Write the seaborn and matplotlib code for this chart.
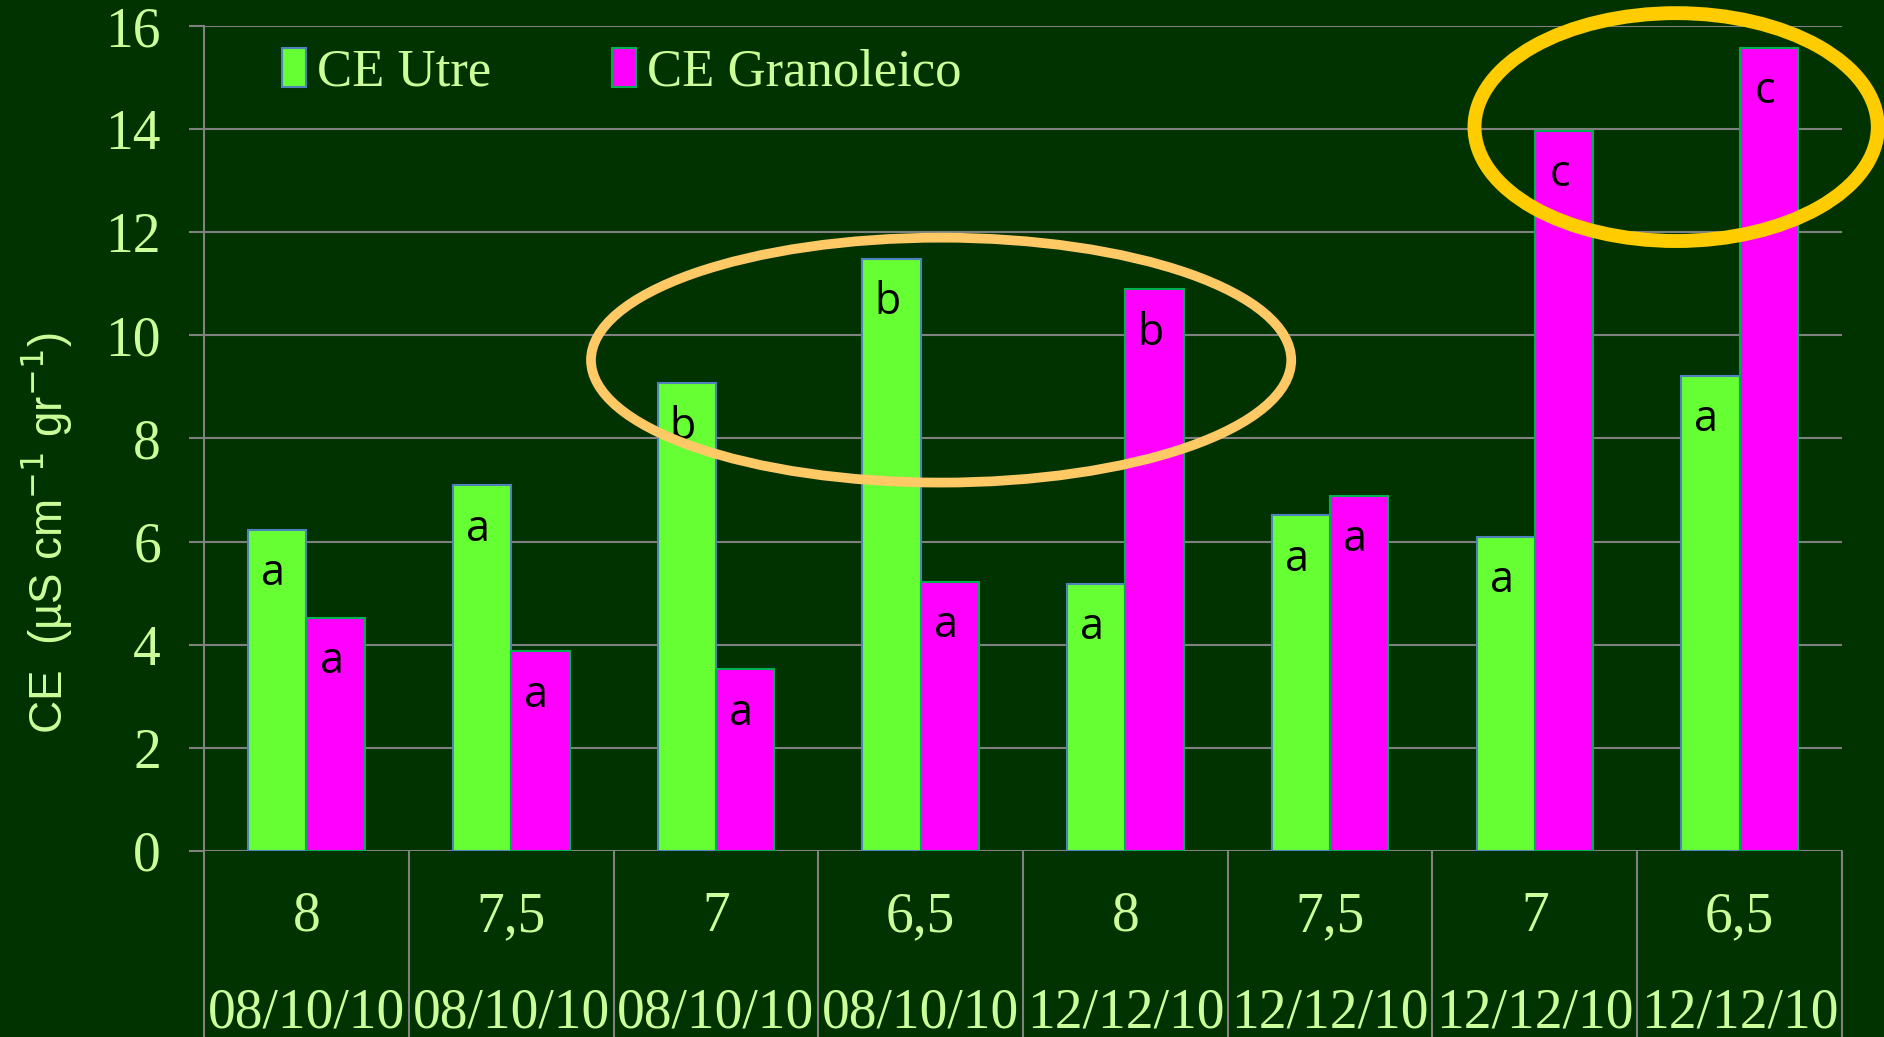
import matplotlib
matplotlib.use('Agg')
import matplotlib.pyplot as plt
import matplotlib.transforms as mtransforms
from matplotlib.patches import Ellipse, Patch
import pandas as pd
import seaborn as sns

# datos
ph = ['8', '7,5', '7', '6,5', '8', '7,5', '7', '6,5']
fechas = ['08/10/10'] * 4 + ['12/12/10'] * 4
ce_utre = [6.23, 7.09, 9.07, 11.48, 5.18, 6.51, 6.09, 9.21]
ce_grano = [4.52, 3.87, 3.52, 5.22, 10.89, 6.88, 13.97, 15.58]
letras_utre = ['a', 'a', 'b', 'b', 'a', 'a', 'a', 'a']
letras_grano = ['a', 'a', 'a', 'a', 'b', 'a', 'c', 'c']
series = ['CE Utre', 'CE Granoleico']
yticks = [0, 2, 4, 6, 8, 10, 12, 14, 16]

fondo = '#003300'
texto = '#CCFF99'
colores = ['#66FF33', '#FF00FF']
bordes = ['#4F81BD', '#00B050']

n = len(ph)
df = pd.DataFrame({
    'cat': list(range(n)) * 2,
    'ce': ce_utre + ce_grano,
    'serie': [series[0]] * n + [series[1]] * n,
})

sns.set_style('dark')
plt.rcParams['font.family'] = ['Liberation Serif', 'DejaVu Serif']

fig = plt.figure(figsize=(18.84, 10.37), dpi=100, facecolor=fondo)
ax = fig.add_axes([0.1083, 0.1794, 0.8694, 0.7955])
ax.set_facecolor(fondo)

sns.barplot(data=df, x='cat', y='ce', hue='serie', hue_order=series,
            palette=colores, width=0.57, saturation=1, ax=ax, legend=False)

# bordes de cada serie y letras
for cont, borde, letras in zip(ax.containers, bordes, [letras_utre, letras_grano]):
    for p, l in zip(cont.patches, letras):
        p.set_edgecolor(borde)
        p.set_linewidth(1.5)
        ax.annotate(l, (p.get_x() + p.get_width() / 2., p.get_height()),
                    xytext=(-4, -44), textcoords='offset pixels',
                    ha='center', va='center', fontsize=31, color='black',
                    family=['Open Sans', 'DejaVu Sans'])

ax.set_xlim(-0.5, n - 0.5)
ax.set_ylim(0, 16)
ax.set_yticks(yticks)
ax.set_yticklabels([str(t) for t in yticks], fontsize=40, color=texto)
ax.tick_params(axis='y', length=11, width=1.5, color='#808080', pad=20, left=True)
ax.set_xticks([])
ax.set_xlabel('')
ax.set_ylabel(r'CE  (µS cm$^{-1}$ gr$^{-1}$)', fontsize=33, color=texto,
              family=['Liberation Sans', 'DejaVu Sans'])
ax.yaxis.set_label_coords(-0.079, 0.385)

ax.grid(axis='y', color='#808080', linewidth=1.5)
ax.grid(axis='x', visible=False)
ax.set_axisbelow(True)
for lado in ['top', 'right', 'bottom']:
    ax.spines[lado].set_visible(False)
ax.spines['left'].set_visible(True)
ax.spines['left'].set_color('#808080')
ax.spines['left'].set_linewidth(1.5)

# eje x en dos filas con separadores
trans = mtransforms.blended_transform_factory(ax.transData, ax.transAxes)
for i in range(n + 1):
    ax.plot([i - 0.5, i - 0.5], [0, -0.24], transform=trans, color='#808080',
            linewidth=1.5, clip_on=False)
for i in range(n):
    ax.text(i, -0.08, ph[i], transform=trans, ha='center', va='center',
            fontsize=40, color=texto)
    ax.text(i, -0.197, fechas[i], transform=trans, ha='center', va='center',
            fontsize=40, color=texto)

# elipses destacadas
ax.add_patch(Ellipse((3.10, 9.52), 3.42, 4.75, fill=False, edgecolor='#FFC966',
                     linewidth=7, clip_on=False, zorder=5))
ax.add_patch(Ellipse((6.69, 14.04), 1.97, 4.42, fill=False, edgecolor='#FFCC00',
                     linewidth=10, clip_on=False, zorder=5))

# leyenda
handles = [Patch(facecolor=c, edgecolor=b, linewidth=1.5) for c, b in zip(colores, bordes)]
leg = ax.legend(handles, series, loc='center left', bbox_to_anchor=(0.035, 0.944),
                ncol=2, frameon=False, fontsize=38, handlelength=0.45, handleheight=0.75,
                handletextpad=0.2, columnspacing=2.3, borderaxespad=0)
for t in leg.get_texts():
    t.set_color(texto)

plt.savefig('out.png', dpi=100, facecolor=fondo)
